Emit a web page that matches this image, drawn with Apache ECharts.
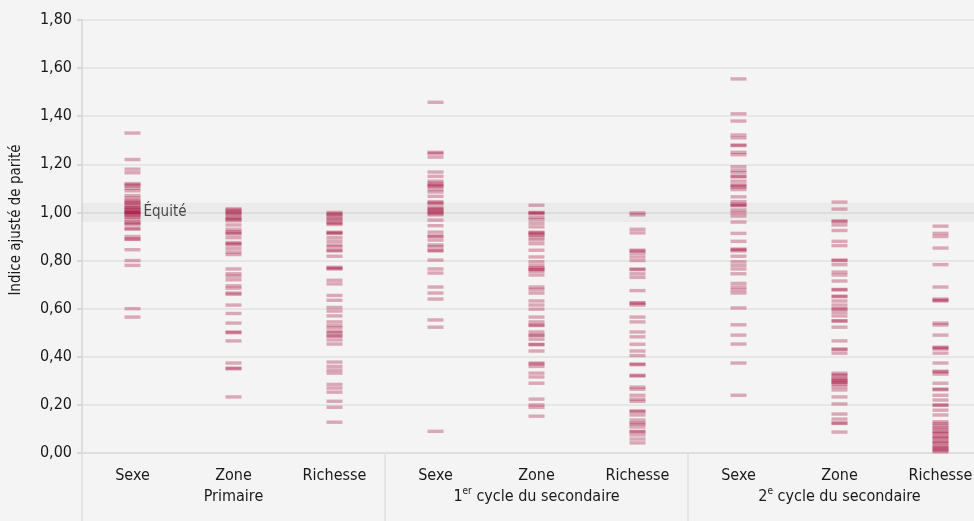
<!DOCTYPE html>
<html>
<head>
<meta charset="utf-8">
<script src="https://cdn.jsdelivr.net/npm/echarts@6/dist/echarts.min.js"></script>
<style>
html,body{margin:0;padding:0;background:#f4f4f4;}
#chart{width:974px;height:521px;}
</style>
</head>
<body>
<div id="chart"></div>
<script>
// Category labels (x axis) and group labels
var categories = ['Sexe', 'Zone', 'Richesse', 'Sexe', 'Zone', 'Richesse', 'Sexe', 'Zone', 'Richesse'];
var groups = ['Primaire', '1{sup|er} cycle du secondaire', '2{sup|e} cycle du secondaire'];
var yTicks = [0, 0.2, 0.4, 0.6, 0.8, 1.0, 1.2, 1.4, 1.6, 1.8];
var equityLabel = 'Équité';
var equityBand = [0.96, 1.04];

// Values: adjusted parity index per country
var sexePrimaire = [1.33, 1.22, 1.18, 1.165, 1.12, 1.115, 1.11, 1.10, 1.09, 1.07, 1.06, 1.05, 1.045, 1.04, 1.035, 1.03, 1.02, 1.02, 1.015, 1.01, 1.005, 1.00, 1.00, 1.00, 0.995, 0.99, 0.985, 0.98, 0.97, 0.96, 0.955, 0.95, 0.935, 0.93, 0.90, 0.89, 0.888, 0.845, 0.80, 0.78, 0.60, 0.565];
var zonePrimaire = [1.015, 1.01, 1.005, 1.00, 0.995, 0.99, 0.98, 0.975, 0.97, 0.965, 0.948, 0.93, 0.92, 0.915, 0.91, 0.895, 0.875, 0.87, 0.865, 0.85, 0.835, 0.825, 0.765, 0.745, 0.735, 0.72, 0.695, 0.685, 0.665, 0.66, 0.615, 0.58, 0.54, 0.503, 0.50, 0.466, 0.374, 0.353, 0.35, 0.233];
var richessePrimaire = [1.0, 0.995, 0.99, 0.985, 0.975, 0.97, 0.96, 0.955, 0.95, 0.918, 0.915, 0.912, 0.895, 0.88, 0.865, 0.857, 0.843, 0.84, 0.818, 0.772, 0.768, 0.765, 0.718, 0.703, 0.655, 0.635, 0.605, 0.59, 0.57, 0.545, 0.53, 0.52, 0.505, 0.50, 0.488, 0.485, 0.47, 0.453, 0.378, 0.36, 0.345, 0.332, 0.285, 0.27, 0.253, 0.215, 0.19, 0.128];
var sexe1 = [1.458, 1.25, 1.245, 1.23, 1.168, 1.15, 1.13, 1.122, 1.115, 1.11, 1.108, 1.095, 1.085, 1.067, 1.045, 1.04, 1.035, 1.02, 1.015, 1.01, 1.005, 1.0, 0.995, 0.99, 0.968, 0.945, 0.918, 0.902, 0.90, 0.885, 0.865, 0.857, 0.843, 0.84, 0.802, 0.765, 0.748, 0.69, 0.665, 0.64, 0.553, 0.523, 0.09];
var zone1 = [1.03, 1.0, 0.998, 0.995, 0.98, 0.97, 0.955, 0.94, 0.918, 0.915, 0.91, 0.905, 0.895, 0.885, 0.87, 0.843, 0.815, 0.795, 0.78, 0.77, 0.765, 0.762, 0.755, 0.74, 0.69, 0.68, 0.665, 0.632, 0.615, 0.598, 0.565, 0.545, 0.532, 0.53, 0.503, 0.49, 0.488, 0.473, 0.452, 0.45, 0.424, 0.374, 0.37, 0.36, 0.332, 0.316, 0.29, 0.224, 0.2, 0.19, 0.153];
var richesse1 = [0.998, 0.99, 0.93, 0.915, 0.843, 0.84, 0.83, 0.815, 0.80, 0.765, 0.762, 0.745, 0.73, 0.675, 0.625, 0.622, 0.615, 0.565, 0.545, 0.503, 0.483, 0.452, 0.424, 0.405, 0.37, 0.367, 0.323, 0.32, 0.274, 0.265, 0.24, 0.224, 0.215, 0.175, 0.172, 0.158, 0.137, 0.125, 0.12, 0.108, 0.09, 0.088, 0.075, 0.058, 0.042];
var sexe2 = [1.555, 1.41, 1.38, 1.322, 1.31, 1.28, 1.278, 1.25, 1.24, 1.19, 1.175, 1.165, 1.15, 1.148, 1.13, 1.115, 1.11, 1.105, 1.095, 1.065, 1.045, 1.035, 1.03, 1.028, 1.01, 0.998, 0.985, 0.96, 0.913, 0.88, 0.848, 0.845, 0.84, 0.818, 0.795, 0.78, 0.765, 0.745, 0.705, 0.69, 0.678, 0.665, 0.603, 0.533, 0.49, 0.453, 0.374, 0.24];
var zone2 = [1.043, 1.014, 0.965, 0.962, 0.948, 0.925, 0.88, 0.862, 0.802, 0.80, 0.783, 0.752, 0.74, 0.715, 0.68, 0.678, 0.652, 0.65, 0.632, 0.615, 0.6, 0.598, 0.585, 0.57, 0.55, 0.548, 0.523, 0.466, 0.432, 0.43, 0.415, 0.332, 0.325, 0.32, 0.31, 0.305, 0.3, 0.295, 0.292, 0.285, 0.275, 0.262, 0.233, 0.204, 0.162, 0.141, 0.125, 0.123, 0.087];
var richesse2 = [0.943, 0.913, 0.90, 0.852, 0.783, 0.69, 0.64, 0.635, 0.632, 0.54, 0.532, 0.49, 0.44, 0.437, 0.432, 0.415, 0.374, 0.34, 0.337, 0.328, 0.29, 0.266, 0.263, 0.24, 0.22, 0.2, 0.198, 0.178, 0.158, 0.13, 0.122, 0.115, 0.105, 0.10, 0.09, 0.085, 0.08, 0.07, 0.065, 0.06, 0.05, 0.045, 0.04, 0.03, 0.025, 0.02, 0.015, 0.01, 0.005];

var columns = [sexePrimaire, zonePrimaire, richessePrimaire, sexe1, zone1, richesse1, sexe2, zone2, richesse2];

var FONT = "'Liberation Sans Narrow', 'DejaVu Sans Condensed', 'Roboto', sans-serif";
var points = [];
columns.forEach(function (col, ci) {
  col.forEach(function (v) { points.push([ci, v]); });
});

var chart = echarts.init(document.getElementById('chart'), null, {renderer: 'canvas'});
chart.setOption({
  backgroundColor: '#f4f4f4',
  animation: false,
  textStyle: {fontFamily: FONT},
  grid: {left: 82, right: -17, top: 20, bottom: 68, containLabel: false, outerBoundsMode: 'none'},
  xAxis: {
    type: 'category',
    data: categories.map(function (c, i) { return String(i); }),
    boundaryGap: true,
    axisLine: {show: true, lineStyle: {color: '#dcdcdc', width: 1.5}},
    axisTick: {
      show: true,
      interval: function (index) { return index % 3 === 0; },
      length: 70,
      lineStyle: {color: '#dedede', width: 1.5}
    },
    axisLabel: {
      interval: 0,
      margin: 12,
      color: '#1a1a1a',
      fontSize: 16,
      lineHeight: 21,
      fontFamily: FONT,
      formatter: function (value, index) {
        var i = Number(value);
        var s = categories[i];
        if (i % 3 === 1) s += '\n' + groups[(i - 1) / 3];
        return s;
      },
      rich: {
        sup: {fontSize: 10, verticalAlign: 'top', lineHeight: 21, color: '#1a1a1a', fontFamily: FONT, padding: [0, 0, 8, 0]}
      }
    },
    splitLine: {show: false}
  },
  yAxis: {
    type: 'value',
    min: yTicks[0],
    max: yTicks[yTicks.length - 1],
    interval: 0.2,
    name: 'Indice ajusté de parité',
    nameLocation: 'middle',
    nameGap: 58,
    nameRotate: 90,
    nameTextStyle: {fontSize: 15, color: '#1a1a1a', fontFamily: FONT, padding: [0, 0, 0, 33]},
    axisLine: {show: true, lineStyle: {color: '#d6d6d6', width: 1.5}},
    axisTick: {show: true, length: 5, lineStyle: {color: '#d0d0d0', width: 1.5}},
    axisLabel: {
      margin: 10,
      fontSize: 16,
      color: '#1a1a1a',
      fontFamily: FONT,
      formatter: function (v) { return v.toFixed(2).replace('.', ','); }
    },
    splitLine: {show: true, lineStyle: {color: '#e2e2e2', width: 1.5}}
  },
  series: [
    {
      type: 'scatter',
      name: 'band',
      data: [],
      silent: true,
      z: 1,
      markArea: {
        silent: true,
        itemStyle: {color: 'rgba(0,0,0,0.035)'},
        data: [[{yAxis: equityBand[0]}, {yAxis: equityBand[1]}]]
      }
    },
    {
      type: 'scatter',
      name: 'Indice',
      symbol: 'rect',
      symbolSize: [16, 3.4],
      z: 3,
      itemStyle: {color: 'rgba(165,15,60,0.42)'},
      emphasis: {disabled: true},
      data: points
    },
    {
      type: 'scatter',
      name: 'Équité',
      symbol: 'rect',
      symbolSize: [16, 3],
      z: 4,
      silent: true,
      itemStyle: {color: 'rgba(0,0,0,0)'},
      label: {
        show: true,
        position: 'right',
        distance: 3,
        formatter: equityLabel,
        fontSize: 15,
        color: '#1a1a1a',
        fontFamily: FONT
      },
      data: [[0, 1.0]]
    }
  ]
});
</script>
</body>
</html>
